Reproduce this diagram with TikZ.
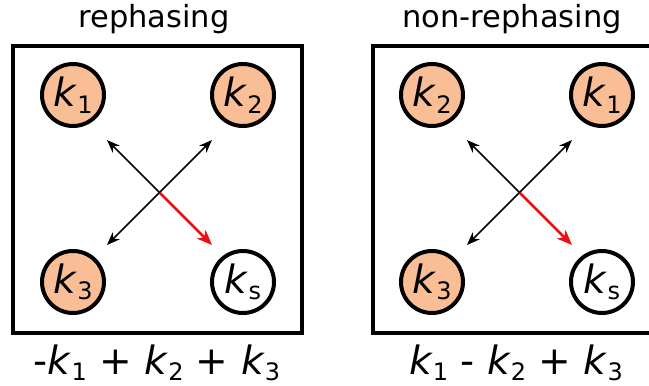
\documentclass[tikz,border=0pt]{standalone}
\usepackage{fontspec}
\setmainfont{DejaVu Sans}
\usetikzlibrary{arrows.meta}
\definecolor{peach}{RGB}{249,190,150}
\definecolor{arrred}{RGB}{232,16,16}
\newcommand\kv[1]{\textit{k}\raisebox{-6.5pt}{\fontsize{24}{24}\selectfont #1}}
\tikzset{
  panel/.style={draw=black, line width=4pt},
  wave/.style={circle, draw=black, line width=4pt, minimum size=62pt, inner sep=0pt, fill=peach, font=\fontsize{39}{40}\selectfont},
  signal/.style={wave, fill=white},
  title/.style={anchor=base, font=\fontsize{30.5}{32}\selectfont},
  formula/.style={anchor=base, font=\fontsize{39}{40}\selectfont},
  beam/.style={line width=1.6pt, draw=black, {Stealth[length=13pt,width=10pt,inset=4pt]}-{Stealth[length=13pt,width=10pt,inset=4pt]}},
  beamhalf/.style={line width=1.6pt, draw=black, -{Stealth[length=13pt,width=10pt,inset=4pt]}},
  sig/.style={line width=2.6pt, draw=arrred, -{Stealth[length=15pt,width=12pt,inset=4pt]}}
}
\begin{document}
\begin{tikzpicture}[x=1pt,y=-1pt]
\useasboundingbox (0,0) rectangle (649,386);
\clip (0,0) rectangle (649,386);
% left panel
\node[title] (tl) at (154,27) {rephasing};
\draw[panel] (13,46) rectangle (302,333);
\node[wave] (a1) at (73,95) {\kv{1}};
\node[wave] (a2) at (243,95) {\kv{2}};
\node[wave] (a3) at (73,282) {\kv{3}};
\node[signal] (as) at (243,282) {\kv{s}};
\coordinate (ac) at (160,193);
\coordinate (aul) at (107,140);
\coordinate (aur) at (212,140);
\coordinate (all) at (107,245);
\coordinate (alr) at (212,245);
\draw[beam] (aur) -- (all);
\draw[beamhalf] (ac) -- (aul);
\draw[sig] (ac) -- (alr);
\node[formula] (fl) at (157,374) {-\kv{1} + \kv{2} + \kv{3}};
% right panel
\node[title] (tr) at (512,27) {non-rephasing};
\draw[panel] (373,46) rectangle (662,333);
\node[wave] (b2) at (432,95) {\kv{2}};
\node[wave] (b1) at (602,95) {\kv{1}};
\node[wave] (b3) at (432,282) {\kv{3}};
\node[signal] (bs) at (602,282) {\kv{s}};
\coordinate (bc) at (520,193);
\coordinate (bul) at (467,140);
\coordinate (bur) at (572,140);
\coordinate (bll) at (467,245);
\coordinate (blr) at (572,245);
\draw[beam] (bur) -- (bll);
\draw[beamhalf] (bc) -- (bul);
\draw[sig] (bc) -- (blr);
\node[formula] (fr) at (516,374) {\kv{1} - \kv{2} + \kv{3}};
\end{tikzpicture}
\end{document}
